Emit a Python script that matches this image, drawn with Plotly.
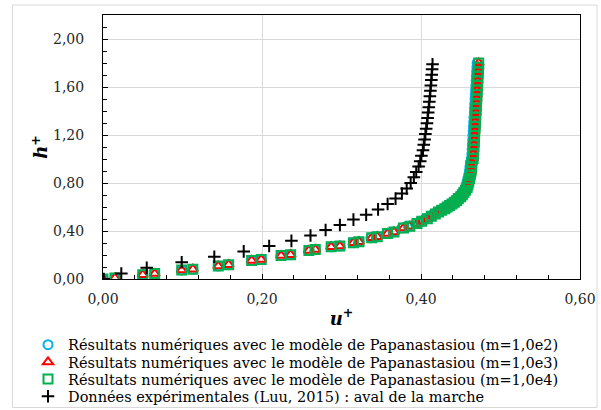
import plotly.graph_objects as go

# ---------------- data ----------------
# Experimental data (Luu, 2015) : aval de la marche
u_exp = [0.001, 0.023, 0.055, 0.099, 0.140, 0.177, 0.209, 0.237, 0.261, 0.280,
         0.298, 0.315, 0.331, 0.346, 0.358, 0.368, 0.376, 0.382, 0.387, 0.391,
         0.394, 0.397, 0.399, 0.4005, 0.4025, 0.4035, 0.4045, 0.4055, 0.4065, 0.4075,
         0.4083, 0.4090, 0.4098, 0.4105, 0.4112, 0.4118, 0.4124, 0.4130, 0.4135, 0.4140,
         0.4145]
h_exp = [0.000, 0.046, 0.093, 0.140, 0.185, 0.230, 0.275, 0.318, 0.362, 0.408,
         0.450, 0.495, 0.535, 0.580, 0.625, 0.670, 0.712, 0.755, 0.800, 0.848,
         0.892, 0.938, 0.982, 1.028, 1.072, 1.118, 1.162, 1.208, 1.252, 1.298,
         1.342, 1.388, 1.432, 1.478, 1.522, 1.568, 1.612, 1.658, 1.702, 1.748,
         1.790]

# Numerical results (Papanastasiou model) - common h+ positions
h_num = [0.000, 0.009, 0.036, 0.045, 0.074, 0.082, 0.108, 0.119, 0.155, 0.163,
         0.195, 0.202, 0.238, 0.246, 0.268, 0.274, 0.303, 0.311, 0.343, 0.352,
         0.380, 0.392, 0.425, 0.440, 0.462, 0.482, 0.503, 0.522, 0.542, 0.558,
         0.572, 0.586, 0.600, 0.613, 0.626, 0.640, 0.655, 0.670, 0.686, 0.702,
         0.720, 0.740, 0.762, 0.785, 0.810, 0.838, 0.868, 0.900, 0.935, 0.970,
         1.005, 1.043, 1.081, 1.119, 1.157, 1.195, 1.233, 1.271, 1.309, 1.347,
         1.385, 1.423, 1.461, 1.499, 1.537, 1.575, 1.613, 1.651, 1.689, 1.727,
         1.765, 1.800]

u_num_m1e2 = [0.000, 0.015, 0.050, 0.065, 0.099, 0.113, 0.145, 0.158, 0.187, 0.199,
              0.224, 0.236, 0.259, 0.267, 0.287, 0.298, 0.315, 0.322, 0.337, 0.344,
              0.357, 0.365, 0.376, 0.384, 0.393, 0.399, 0.406, 0.411, 0.416, 0.420,
              0.424, 0.428, 0.431, 0.434, 0.437, 0.440, 0.443, 0.445, 0.448, 0.450,
              0.452, 0.454, 0.456, 0.457, 0.458, 0.459, 0.460, 0.461, 0.4615, 0.462,
              0.4635, 0.464, 0.4643, 0.4646, 0.465, 0.4653, 0.4656, 0.466, 0.4663, 0.4666,
              0.467, 0.4673, 0.4676, 0.468, 0.4683, 0.4686, 0.469, 0.4693, 0.4696, 0.470,
              0.4703, 0.4706]

u_num_m1e3 = [0.000, 0.015, 0.050, 0.065, 0.099, 0.113, 0.145, 0.158, 0.187, 0.199,
              0.224, 0.236, 0.259, 0.267, 0.287, 0.298, 0.315, 0.322, 0.338, 0.345,
              0.358, 0.366, 0.378, 0.386, 0.395, 0.401, 0.408, 0.413, 0.418, 0.422,
              0.426, 0.430, 0.433, 0.436, 0.439, 0.442, 0.445, 0.447, 0.450, 0.452,
              0.454, 0.456, 0.458, 0.459, 0.460, 0.461, 0.462, 0.463, 0.4635, 0.464,
              0.4655, 0.466, 0.4663, 0.4666, 0.467, 0.4673, 0.4676, 0.468, 0.4683, 0.4686,
              0.469, 0.4693, 0.4696, 0.470, 0.4703, 0.4706, 0.471, 0.4713, 0.4716, 0.472,
              0.4723, 0.4726]

u_num_m1e4 = [0.000, 0.015, 0.050, 0.065, 0.099, 0.113, 0.145, 0.158, 0.187, 0.199,
              0.224, 0.236, 0.259, 0.267, 0.287, 0.298, 0.315, 0.322, 0.338, 0.345,
              0.358, 0.366, 0.378, 0.386, 0.395, 0.401, 0.408, 0.413, 0.418, 0.422,
              0.426, 0.430, 0.433, 0.436, 0.439, 0.442, 0.445, 0.447, 0.450, 0.452,
              0.454, 0.456, 0.458, 0.459, 0.460, 0.461, 0.462, 0.463, 0.4635, 0.464,
              0.4655, 0.466, 0.4663, 0.4666, 0.467, 0.4673, 0.4676, 0.468, 0.4683, 0.4686,
              0.469, 0.4693, 0.4696, 0.470, 0.4703, 0.4706, 0.471, 0.4713, 0.4716, 0.472,
              0.4723, 0.4726]

names = [
    "Résultats numériques avec le modèle de Papanastasiou (m=1,0e2)",
    "Résultats numériques avec le modèle de Papanastasiou (m=1,0e3)",
    "Résultats numériques avec le modèle de Papanastasiou (m=1,0e4)",
    "Données expérimentales (Luu, 2015) : aval de la marche",
]

x_ticks = [0.0, 0.2, 0.4, 0.6]
y_ticks = [0.0, 0.4, 0.8, 1.2, 1.6, 2.0]

# ---------------- styling ----------------
FONT = "DejaVu Serif"
C_BLUE = "#00B0F0"
C_RED = "#FF0000"
C_GREEN = "#00B050"

fig = go.Figure()

fig.add_trace(go.Scatter(
    x=u_num_m1e2, y=h_num, mode="markers", name=names[0], legend="legend", showlegend=True,
    marker=dict(symbol="circle-open", size=9, color=C_BLUE, line=dict(width=2, color=C_BLUE)),
))
fig.add_trace(go.Scatter(
    x=u_num_m1e3, y=h_num, mode="markers", name=names[1], legend="legend2", showlegend=True,
    marker=dict(symbol="triangle-up-open", size=9, color=C_RED, line=dict(width=2, color=C_RED)),
))
fig.add_trace(go.Scatter(
    x=u_num_m1e4, y=h_num, mode="markers", name=names[2], legend="legend3", showlegend=True,
    marker=dict(symbol="square-open", size=9, color=C_GREEN, line=dict(width=2, color=C_GREEN)),
))
fig.add_trace(go.Scatter(
    x=u_exp, y=h_exp, mode="markers", name=names[3], legend="legend4", showlegend=True,
    marker=dict(symbol="cross-thin-open", size=9, color="black", line=dict(width=2, color="black")),
))

# plot area in px: left 103, right 580, top 15, bottom 279
L, R, T, B = 103, 21, 15, 131
W, H = 601, 410
pw = W - L - R
ph = H - T - B

def px2x(px):
    return (px - L) / pw

def py2y(py):
    return (H - B - py) / ph

leg_common = dict(
    x=px2x(28), xanchor="left", yanchor="middle",
    bgcolor="rgba(0,0,0,0)", borderwidth=0, itemwidth=30,
    font=dict(family=FONT, size=14.5, color="black"),
)
row_centers = [344.7, 362.0, 379.0, 396.4]

axis_common = dict(
    showgrid=True, gridcolor="#D9D9D9", gridwidth=1,
    showline=True, linecolor="black", linewidth=1, mirror=True,
    ticks="inside", ticklen=5, tickcolor="black",
    zeroline=False, tickformat=".2f",
    tickfont=dict(family=FONT, size=14, color="#262626"),
)

fig.update_layout(
    width=W, height=H,
    margin=dict(l=L, r=R, t=T, b=B, pad=0, autoexpand=False),
    paper_bgcolor="white", plot_bgcolor="white",
    separators=", ",
    showlegend=True,
    font=dict(family=FONT, color="black"),
    xaxis=dict(
        range=[0, 0.6], tickvals=x_ticks, ticklabelstandoff=7,
        minor=dict(dtick=0.04, ticks="inside", ticklen=4, tickcolor="black", showgrid=False),
        title=dict(text="<b><i>u</i><sup>+</sup></b>", font=dict(family=FONT, size=18, color="black"), standoff=6),
        automargin=False,
        **axis_common,
    ),
    yaxis=dict(
        range=[0, 2.2], tickvals=y_ticks, ticklabelstandoff=15,
        minor=dict(dtick=0.1, ticks="inside", ticklen=4, tickcolor="black", showgrid=False),
        title=dict(text="<b><i>h</i><sup>+</sup></b>", font=dict(family=FONT, size=18, color="black"), standoff=0),
        automargin=False,
        **axis_common,
    ),
    legend=dict(y=py2y(row_centers[0]), **leg_common),
    legend2=dict(y=py2y(row_centers[1]), **leg_common),
    legend3=dict(y=py2y(row_centers[2]), **leg_common),
    legend4=dict(y=py2y(row_centers[3]), **leg_common),
    shapes=[dict(
        type="rect", xref="paper", yref="paper",
        x0=px2x(12.5), x1=px2x(597), y0=py2y(407.5), y1=py2y(5),
        line=dict(color="#D9D9D9", width=1), fillcolor="rgba(0,0,0,0)", layer="below",
    )],
)

fig.write_html(
    "out.html",
    config={"displayModeBar": False},
    post_script="document.body.style.margin='0';document.body.style.overflow='hidden';",
)
